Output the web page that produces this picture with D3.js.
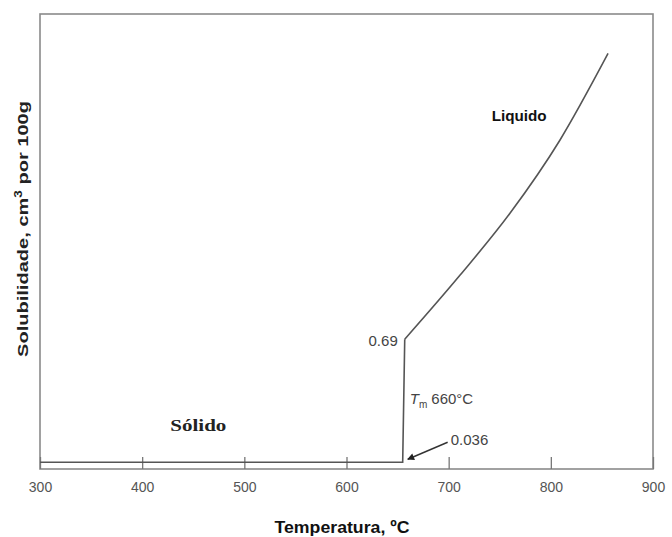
<!DOCTYPE html>
<html>
<head>
<meta charset="utf-8">
<script src="https://cdn.jsdelivr.net/npm/d3@7"></script>
<style>
  body { margin: 0; background: #fff; }
  svg { display: block; }
</style>
</head>
<body>
<script>
var width = 672;
var height = 537;

// dados
var solidTemp = [300, 655];
var solidSol = [0.036, 0.036];
var liquidTemp = [657, 711, 760, 809, 856];
var liquidSol = [0.69, 1.03, 1.36, 1.75, 2.21];
var xTicks = [300, 400, 500, 600, 700, 800, 900];

var svg = d3.select("body").append("svg")
    .attr("width", width)
    .attr("height", height);

var plotMargins = { top: 14, bottom: 68, left: 40, right: 19 };
var plotWidth = width - plotMargins.left - plotMargins.right;
var plotHeight = height - plotMargins.top - plotMargins.bottom;

var plotGroup = svg.append("g")
    .attr("transform", "translate(" + plotMargins.left + "," + plotMargins.top + ")");

var xScale = d3.scaleLinear().domain([300, 900]).range([0, plotWidth]);
var yScale = d3.scaleLinear().domain([0, 2.42]).range([plotHeight, 0]);

// moldura
plotGroup.append("rect")
    .attr("width", plotWidth)
    .attr("height", plotHeight)
    .attr("fill", "none")
    .attr("stroke", "#8a8a8a")
    .attr("stroke-width", 1.6);

// eixo x com marcas para dentro
var xAxis = d3.axisBottom(xScale)
    .tickValues(xTicks)
    .tickSizeInner(-12)
    .tickSizeOuter(0)
    .tickPadding(13);
var xAxisGroup = plotGroup.append("g")
    .attr("transform", "translate(0," + plotHeight + ")")
    .call(xAxis);
xAxisGroup.select(".domain").remove();
xAxisGroup.selectAll(".tick line").attr("stroke", "#777").attr("stroke-width", 1.3);
xAxisGroup.selectAll(".tick text")
    .attr("fill", "#555")
    .style("font-family", "Liberation Sans, Arial, sans-serif")
    .style("font-size", "14px");

// curva: sólido + salto vertical + líquido
var solidPts = solidTemp.map(function (t, i) { return [t, solidSol[i]]; });
solidPts.push([liquidTemp[0], liquidSol[0]]);
var liquidPts = liquidTemp.map(function (t, i) { return [t, liquidSol[i]]; });

var lineLin = d3.line()
    .x(function (d) { return xScale(d[0]); })
    .y(function (d) { return yScale(d[1]); });
var lineCurve = d3.line()
    .x(function (d) { return xScale(d[0]); })
    .y(function (d) { return yScale(d[1]); })
    .curve(d3.curveMonotoneX);

plotGroup.append("path")
    .attr("d", lineLin(solidPts))
    .attr("fill", "none")
    .attr("stroke", "#555")
    .attr("stroke-width", 1.6);
plotGroup.append("path")
    .attr("d", lineCurve(liquidPts))
    .attr("fill", "none")
    .attr("stroke", "#555")
    .attr("stroke-width", 1.6);

// anotações
var sans = "Liberation Sans, Arial, sans-serif";
plotGroup.append("text")
    .attr("x", xScale(liquidTemp[0]) - 7)
    .attr("y", yScale(liquidSol[0]) + 7)
    .attr("text-anchor", "end")
    .attr("fill", "#444")
    .style("font-family", sans)
    .style("font-size", "15px")
    .text("0.69");

var tm = plotGroup.append("text")
    .attr("x", xScale(660) + 2)
    .attr("y", yScale(0.36) + 3)
    .attr("fill", "#444")
    .style("font-family", sans)
    .style("font-size", "15px");
tm.append("tspan").style("font-style", "italic").text("T");
tm.append("tspan").attr("dy", 4).style("font-size", "10px").text("m");
tm.append("tspan").attr("dy", -4).attr("dx", 4).text("660°C");

plotGroup.append("text")
    .attr("x", xScale(702))
    .attr("y", yScale(0.036) - 17)
    .attr("fill", "#444")
    .style("font-family", sans)
    .style("font-size", "15px")
    .text("0.036");

// seta
svg.append("defs").append("marker")
    .attr("id", "arrow")
    .attr("viewBox", "0 0 10 10")
    .attr("refX", 9).attr("refY", 5)
    .attr("markerWidth", 11).attr("markerHeight", 7)
    .attr("markerUnits", "userSpaceOnUse")
    .attr("orient", "auto")
    .append("path")
    .attr("d", "M0,0L10,5L0,10z")
    .attr("fill", "#222");
plotGroup.append("line")
    .attr("x1", xScale(699)).attr("y1", yScale(0.036) - 20)
    .attr("x2", xScale(660)).attr("y2", yScale(0.036) - 3)
    .attr("stroke", "#333")
    .attr("stroke-width", 1.4)
    .attr("marker-end", "url(#arrow)");

plotGroup.append("text")
    .attr("x", xScale(455))
    .attr("y", yScale(0.036) - 31)
    .attr("text-anchor", "middle")
    .attr("textLength", 56)
    .attr("lengthAdjust", "spacingAndGlyphs")
    .attr("fill", "#222")
    .style("font-family", "Liberation Serif, Times New Roman, serif")
    .style("font-weight", "bold")
    .style("font-size", "17px")
    .text("Sólido");

plotGroup.append("text")
    .attr("x", xScale(769))
    .attr("y", 107)
    .attr("text-anchor", "middle")
    .attr("textLength", 55)
    .attr("lengthAdjust", "spacingAndGlyphs")
    .attr("fill", "#111")
    .style("font-family", sans)
    .style("font-weight", "bold")
    .style("font-size", "14px")
    .text("Liquido");

// títulos dos eixos
svg.append("text")
    .attr("x", 342)
    .attr("y", 533)
    .attr("text-anchor", "middle")
    .attr("textLength", 135)
    .attr("lengthAdjust", "spacingAndGlyphs")
    .attr("fill", "#111")
    .style("font-family", "Liberation Sans Narrow, Liberation Sans, Arial, sans-serif")
    .style("font-weight", "bold")
    .style("font-size", "17px")
    .text("Temperatura, ºC");

var yLabel = svg.append("text")
    .attr("transform", "translate(28,229) rotate(-90)")
    .attr("text-anchor", "middle")
    .attr("textLength", 256)
    .attr("lengthAdjust", "spacingAndGlyphs")
    .attr("fill", "#222")
    .style("font-family", sans)
    .style("font-weight", "bold")
    .style("font-size", "15px");
yLabel.append("tspan").text("Solubilidade, cm");
yLabel.append("tspan").attr("dy", -6).style("font-size", "10px").text("3");
yLabel.append("tspan").attr("dy", 6).text("  por  100g");
</script>
</body>
</html>
